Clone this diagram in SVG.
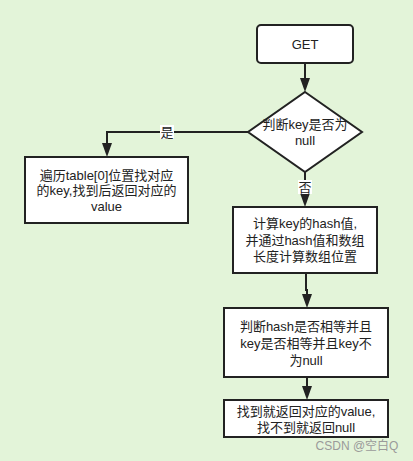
<svg xmlns="http://www.w3.org/2000/svg" width="413" height="461" viewBox="0 0 413 461">
<style>
.n{fill:#fff;stroke:#222;stroke-width:2}
.t{font-family:"Liberation Sans","Noto Sans CJK SC",sans-serif;font-size:13px;fill:#222;text-anchor:middle}
.c{fill:none;stroke:#222;stroke-width:2}
.lb{fill:#fff}
</style>
<defs>
<marker id="a" markerWidth="10" markerHeight="14" refX="5" refY="14" orient="auto-start-reverse" markerUnits="userSpaceOnUse" viewBox="0 0 10 14">
<path d="M0,0 L10,0 L5,14 Z" fill="#222" transform="rotate(0)"/>
</marker>
</defs>
<rect width="413" height="461" fill="#e3f4d9"/>
<g id="connectors">
<path class="c" d="M305,63 V78"/><path d="M300,78 L310,78 L305,92 Z" fill="#222"/>
<path class="c" d="M248,132 H107 V143"/><path d="M102,143 L112,143 L107,157 Z" fill="#222"/>
<path class="c" d="M305,172 V193"/><path d="M300,193 L310,193 L305,207 Z" fill="#222"/>
<path class="c" d="M306,273 V290 H307 V294"/><path d="M302,294 L312,294 L307,308 Z" fill="#222"/>
<path class="c" d="M307,377 V386"/><path d="M302,386 L312,386 L307,400 Z" fill="#222"/>
<rect class="lb" x="160" y="125" width="14" height="14"/>
<text class="t" x="167" y="137">是</text>
<rect class="lb" x="298" y="180" width="14" height="14"/>
<text class="t" x="305" y="192">否</text>
</g>
<g id="get">
<rect class="n" x="257" y="25" width="96" height="38" rx="4"/>
<text class="t" x="305" y="49">GET</text>
</g>
<g id="judge-null">
<path class="n" d="M305,92 L362,132 L305,172 L248,132 Z"/>
<text class="t" x="305" y="129">判断key是否为</text>
<text class="t" x="305" y="145">null</text>
</g>
<g id="traverse">
<rect class="n" x="25" y="157" width="163" height="66"/>
<text class="t" x="106.5" y="180">遍历table[0]位置找对应</text>
<text class="t" x="106.5" y="195">的key,找到后返回对应的</text>
<text class="t" x="106.5" y="211">value</text>
</g>
<g id="calc-hash">
<rect class="n" x="233" y="207" width="144" height="66"/>
<text class="t" x="305" y="228">计算key的hash值,</text>
<text class="t" x="305" y="245">并通过hash值和数组</text>
<text class="t" x="305" y="261">长度计算数组位置</text>
</g>
<g id="judge-hash">
<rect class="n" x="224" y="308" width="164" height="69"/>
<text class="t" x="306" y="331">判断hash是否相等并且</text>
<text class="t" x="306" y="348">key是否相等并且key不</text>
<text class="t" x="306" y="365">为null</text>
</g>
<g id="result">
<rect class="n" x="224" y="400" width="164" height="37"/>
<text class="t" x="306" y="416">找到就返回对应的value,</text>
<text class="t" x="306" y="432">找不到就返回null</text>
</g>
<text x="357" y="450" style="font-family:'Liberation Sans','Noto Sans CJK SC',sans-serif;font-size:12px;fill:#9a9a9a;text-anchor:middle">CSDN @空白Q</text>
</svg>
